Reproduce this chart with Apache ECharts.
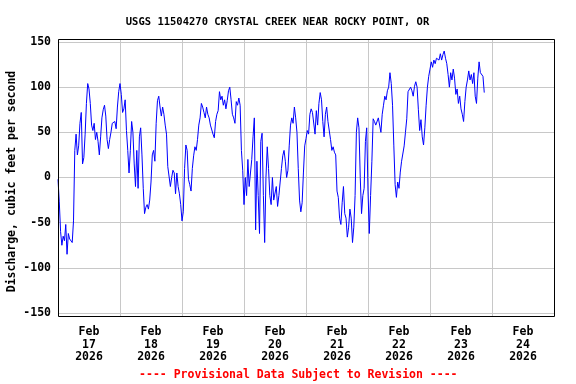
<!DOCTYPE html>
<html>
<head>
<meta charset="utf-8">
<script src="https://cdn.jsdelivr.net/npm/echarts@6/dist/echarts.min.js"></script>
<style>
html,body{margin:0;padding:0;background:#fff;}
#chart{width:576px;height:384px;}
</style>
</head>
<body>
<div id="chart"></div>
<script>
// ---- data ----
const titleText = 'USGS 11504270 CRYSTAL CREEK NEAR ROCKY POINT, OR';
const yAxisTitle = 'Discharge, cubic feet per second';
const footerText = '---- Provisional Data Subject to Revision ----';
const monthLabel = 'Feb';
const yearLabel = '2026';
const dayNumbers = ['17', '18', '19', '20', '21', '22', '23', '24'];
const yTickMin = -150, yTickMax = 150, yTickStep = 50;
const startUTC = Date.UTC(2026, 1, 17, 0, 0);
const endUTC = Date.UTC(2026, 1, 25, 0, 0);
const stepMinutes = 30;
// discharge (cfs), one reading every 30 minutes from Feb 17 00:00
const dischargeCfs = [
  -2, -27, -60, -75, -65, -70, -52, -85, -62, -68,
  -66, -72, -48, 30, 48, 25, 35, 60, 72, 15,
  22, 48, 82, 104, 98, 82, 58, 52, 60, 42,
  50, 40, 25, 45, 66, 75, 80, 68, 42, 32,
  42, 50, 60, 60, 62, 54, 78, 95, 104, 92,
  72, 76, 86, 52, 30, 5,
  30, 62, 50, 15, -10, 30, -12, 45, 55, 25,
  -12, -40, -33, -30, -35, -25, -5, 25, 30, 18,
  60, 85, 90, 78, 68, 78, 70, 58, 48, 12,
  10, -10, 0, 8, 5, -18, 5, -10, -18, -30,
  -48, -38, 10, 36, 30, -2, -8, -15, 10, 24,
  34, 30, 42, 58, 66, 82,
  78, 72, 66, 78, 70, 66, 58, 60, 48, 44,
  62, 70, 74, 95, 86, 90, 80, 86, 76, 85,
  96, 100, 86, 70, 66, 60, 84, 80, 88, 80,
  30, 8, -30, 0, -20, 20, -10, 5, 20, 45,
  66, -58, 18, -20, -62, 40, 49, -20, -72, 0,
  34, 10, -20, -30, 0, -25,
  -25, -10, -32, -20, -5, 10, 24, 30, 18, 0,
  8, 35, 58, 66, 60, 78, 66, 50, 10, -25,
  -38, -28, 5, 35, 43, 52, 48, 70, 76, 72,
  70, 48, 74, 58, 82, 94, 86, 62, 45, 70,
  78, 62, 60, 42, 30, 34, 28, 25, -15, -22,
  -45, -52, -28, -10, -40,
  -45, -66, -55, -35, -45, -72, -55, -20, 50, 66,
  55, 0, -40, -20, -12, 40, 55, -15, -62, -20,
  18, 65, 62, 58, 60, 66, 64, 50, 70, 80,
  90, 86, 96, 100, 116, 104, 80, 35, -8, -22,
  -5, -12, 6, 18, 20, 35, 50, 65, 95, 96,
  100, 96, 90, 101, 106, 100, 75,
  52, 64, 45, 36, 55, 80, 100, 112, 120, 128,
  122, 130, 126, 132, 134, 130, 137, 130, 136, 140,
  132, 126, 114, 100, 116, 108, 120, 110, 92, 98,
  82, 90, 76, 70, 62, 84, 100, 108, 118, 108,
  114, 104, 116, 90, 82, 110, 128, 116, 118, 112,
  94
];

// ---- build ----
const dayLabels = dayNumbers.map(d => monthLabel + '\n' + d + '\n' + yearLabel);
const seriesData = dischargeCfs.map((v, i) => [startUTC + i * stepMinutes * 60000, v]);
const FONT = '"DejaVu Sans Mono", "Liberation Mono", monospace';
const GRID_COLOR = '#c8c8c8';

const chart = echarts.init(document.getElementById('chart'), null, {renderer: 'canvas'});
chart.setOption({
  animation: false,
  backgroundColor: '#ffffff',
  grid: [
    {left: 58, top: 39, width: 496, height: 277, show: false},
    {left: 58, top: 42, width: 496, height: 271, show: false}
  ],
  xAxis: [
    {
      gridIndex: 0, type: 'category', data: dayLabels, boundaryGap: true,
      axisLine: {show: false}, axisTick: {show: false},
      axisLabel: {
        interval: 0, margin: 9.5, color: '#000', fontFamily: FONT, fontWeight: 'bold',
        fontSize: 11.5, lineHeight: 12.7
      },
      splitLine: {show: true, interval: 0, lineStyle: {color: GRID_COLOR, width: 1}}
    },
    {gridIndex: 1, type: 'time', min: startUTC, max: endUTC, show: false}
  ],
  yAxis: [
    {gridIndex: 0, type: 'value', min: 0, max: 1, show: false},
    {
      gridIndex: 1, type: 'value', min: yTickMin, max: yTickMax, interval: yTickStep,
      axisLine: {show: false}, axisTick: {show: false},
      axisLabel: {margin: 7, color: '#000', fontFamily: FONT, fontWeight: 'bold', fontSize: 11.5},
      splitLine: {show: true, lineStyle: {color: GRID_COLOR, width: 1}}
    }
  ],
  series: [{
    type: 'line', xAxisIndex: 1, yAxisIndex: 1, data: seriesData,
    showSymbol: false, symbol: 'none', smooth: false, sampling: null,
    lineStyle: {color: '#0000ff', width: 1}, itemStyle: {color: '#0000ff'}, z: 5
  }],
  graphic: {
    elements: [
      {
        type: 'rect', z: 100, silent: true,
        shape: {x: 58.5, y: 39.5, width: 496, height: 277},
        style: {fill: 'none', stroke: '#000', lineWidth: 1}
      },
      {
        type: 'text', z: 100, x: 277.5, y: 22,
        style: {text: titleText, fill: '#000', font: 'bold 10.5px ' + FONT, align: 'center', verticalAlign: 'middle'}
      },
      {
        type: 'text', z: 100, x: 12, y: 181.5, rotation: Math.PI / 2,
        style: {text: yAxisTitle, fill: '#000', font: 'bold 11.5px ' + FONT, align: 'center', verticalAlign: 'middle'}
      },
      {
        type: 'text', z: 100, x: 298.3, y: 375.5,
        style: {text: footerText, fill: '#ff0000', font: 'bold 11.5px ' + FONT, align: 'center', verticalAlign: 'middle'}
      }
    ]
  }
});
</script>
</body>
</html>
